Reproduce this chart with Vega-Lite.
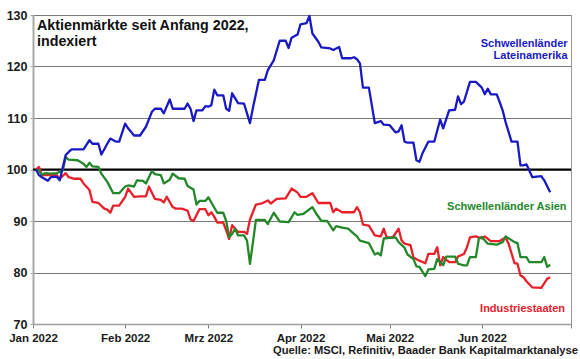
{
  "$schema": "https://vega.github.io/schema/vega-lite/v6.json",
  "width": 538,
  "height": 309,
  "autosize": {"type": "none"},
  "padding": {"left": 33, "top": 15, "right": 9, "bottom": 35},
  "background": "white",
  "title": {"text": "Quelle: MSCI, Refinitiv, Baader Bank Kapitalmarktanalyse", "orient": "bottom", "anchor": "end", "frame": "group", "fontSize": 11.2, "fontWeight": "bold", "color": "#1a1a1a", "offset": 1, "dx": 7, "baseline": "top"},
  "config": {
    "font": "Liberation Sans",
    "view": {"stroke": "#9a9a9a", "strokeWidth": 1}
  },
  "layer": [
    {
      "data": {"values": [{}]},
      "mark": {"type": "rule", "color": "#000000", "strokeWidth": 2.2},
      "encoding": {"y": {"datum": 100, "type": "quantitative", "title": null}}
    },
    {
      "data": {"values": [
        {"series":"Industrie","date":"2022-01-02","value":100.0},
        {"series":"Industrie","date":"2022-01-03","value":100.5},
        {"series":"Industrie","date":"2022-01-04","value":98.9},
        {"series":"Industrie","date":"2022-01-07","value":98.9},
        {"series":"Industrie","date":"2022-01-09","value":98.9},
        {"series":"Industrie","date":"2022-01-10","value":98.2},
        {"series":"Industrie","date":"2022-01-12","value":99.3},
        {"series":"Industrie","date":"2022-01-13","value":98.5},
        {"series":"Industrie","date":"2022-01-15","value":98.2},
        {"series":"Industrie","date":"2022-01-17","value":98.2},
        {"series":"Industrie","date":"2022-01-18","value":97.3},
        {"series":"Industrie","date":"2022-01-20","value":96.0},
        {"series":"Industrie","date":"2022-01-21","value":93.7},
        {"series":"Industrie","date":"2022-01-23","value":93.5},
        {"series":"Industrie","date":"2022-01-25","value":92.4},
        {"series":"Industrie","date":"2022-01-26","value":92.2},
        {"series":"Industrie","date":"2022-01-27","value":91.6},
        {"series":"Industrie","date":"2022-01-28","value":93.0},
        {"series":"Industrie","date":"2022-01-30","value":93.0},
        {"series":"Industrie","date":"2022-02-01","value":94.7},
        {"series":"Industrie","date":"2022-02-02","value":96.3},
        {"series":"Industrie","date":"2022-02-04","value":94.7},
        {"series":"Industrie","date":"2022-02-06","value":94.8},
        {"series":"Industrie","date":"2022-02-08","value":94.8},
        {"series":"Industrie","date":"2022-02-09","value":96.7},
        {"series":"Industrie","date":"2022-02-11","value":94.3},
        {"series":"Industrie","date":"2022-02-13","value":94.1},
        {"series":"Industrie","date":"2022-02-14","value":93.6},
        {"series":"Industrie","date":"2022-02-15","value":94.7},
        {"series":"Industrie","date":"2022-02-17","value":92.7},
        {"series":"Industrie","date":"2022-02-18","value":92.4},
        {"series":"Industrie","date":"2022-02-20","value":92.4},
        {"series":"Industrie","date":"2022-02-22","value":92.0},
        {"series":"Industrie","date":"2022-02-23","value":90.3},
        {"series":"Industrie","date":"2022-02-24","value":90.0},
        {"series":"Industrie","date":"2022-02-26","value":92.3},
        {"series":"Industrie","date":"2022-02-28","value":92.3},
        {"series":"Industrie","date":"2022-03-01","value":91.1},
        {"series":"Industrie","date":"2022-03-02","value":91.7},
        {"series":"Industrie","date":"2022-03-03","value":90.8},
        {"series":"Industrie","date":"2022-03-04","value":89.7},
        {"series":"Industrie","date":"2022-03-06","value":89.7},
        {"series":"Industrie","date":"2022-03-07","value":88.2},
        {"series":"Industrie","date":"2022-03-08","value":86.5},
        {"series":"Industrie","date":"2022-03-09","value":89.2},
        {"series":"Industrie","date":"2022-03-10","value":88.5},
        {"series":"Industrie","date":"2022-03-11","value":87.9},
        {"series":"Industrie","date":"2022-03-13","value":87.9},
        {"series":"Industrie","date":"2022-03-14","value":87.5},
        {"series":"Industrie","date":"2022-03-15","value":90.3},
        {"series":"Industrie","date":"2022-03-17","value":93.2},
        {"series":"Industrie","date":"2022-03-19","value":93.4},
        {"series":"Industrie","date":"2022-03-21","value":94.0},
        {"series":"Industrie","date":"2022-03-22","value":93.4},
        {"series":"Industrie","date":"2022-03-24","value":94.3},
        {"series":"Industrie","date":"2022-03-27","value":94.4},
        {"series":"Industrie","date":"2022-03-29","value":96.3},
        {"series":"Industrie","date":"2022-03-31","value":95.5},
        {"series":"Industrie","date":"2022-04-01","value":94.7},
        {"series":"Industrie","date":"2022-04-03","value":94.7},
        {"series":"Industrie","date":"2022-04-05","value":95.4},
        {"series":"Industrie","date":"2022-04-07","value":93.5},
        {"series":"Industrie","date":"2022-04-11","value":93.5},
        {"series":"Industrie","date":"2022-04-12","value":91.7},
        {"series":"Industrie","date":"2022-04-13","value":92.4},
        {"series":"Industrie","date":"2022-04-15","value":91.7},
        {"series":"Industrie","date":"2022-04-19","value":91.7},
        {"series":"Industrie","date":"2022-04-20","value":92.7},
        {"series":"Industrie","date":"2022-04-21","value":91.7},
        {"series":"Industrie","date":"2022-04-22","value":89.3},
        {"series":"Industrie","date":"2022-04-24","value":89.1},
        {"series":"Industrie","date":"2022-04-26","value":87.2},
        {"series":"Industrie","date":"2022-04-28","value":87.0},
        {"series":"Industrie","date":"2022-04-29","value":88.5},
        {"series":"Industrie","date":"2022-04-30","value":86.8},
        {"series":"Industrie","date":"2022-05-02","value":86.8},
        {"series":"Industrie","date":"2022-05-04","value":88.5},
        {"series":"Industrie","date":"2022-05-05","value":86.2},
        {"series":"Industrie","date":"2022-05-06","value":85.6},
        {"series":"Industrie","date":"2022-05-08","value":85.3},
        {"series":"Industrie","date":"2022-05-09","value":82.9},
        {"series":"Industrie","date":"2022-05-11","value":82.3},
        {"series":"Industrie","date":"2022-05-13","value":81.8},
        {"series":"Industrie","date":"2022-05-14","value":83.6},
        {"series":"Industrie","date":"2022-05-16","value":83.6},
        {"series":"Industrie","date":"2022-05-17","value":84.9},
        {"series":"Industrie","date":"2022-05-18","value":81.4},
        {"series":"Industrie","date":"2022-05-19","value":83.0},
        {"series":"Industrie","date":"2022-05-21","value":82.0},
        {"series":"Industrie","date":"2022-05-23","value":82.0},
        {"series":"Industrie","date":"2022-05-24","value":83.1},
        {"series":"Industrie","date":"2022-05-26","value":83.6},
        {"series":"Industrie","date":"2022-05-27","value":84.9},
        {"series":"Industrie","date":"2022-05-28","value":86.8},
        {"series":"Industrie","date":"2022-05-30","value":87.0},
        {"series":"Industrie","date":"2022-06-01","value":86.6},
        {"series":"Industrie","date":"2022-06-02","value":87.0},
        {"series":"Industrie","date":"2022-06-04","value":86.1},
        {"series":"Industrie","date":"2022-06-07","value":86.1},
        {"series":"Industrie","date":"2022-06-09","value":86.8},
        {"series":"Industrie","date":"2022-06-10","value":85.6},
        {"series":"Industrie","date":"2022-06-12","value":81.8},
        {"series":"Industrie","date":"2022-06-13","value":81.7},
        {"series":"Industrie","date":"2022-06-14","value":79.4},
        {"series":"Industrie","date":"2022-06-15","value":79.1},
        {"series":"Industrie","date":"2022-06-16","value":78.3},
        {"series":"Industrie","date":"2022-06-18","value":77.1},
        {"series":"Industrie","date":"2022-06-21","value":77.0},
        {"series":"Industrie","date":"2022-06-22","value":77.9},
        {"series":"Industrie","date":"2022-06-23","value":78.8},
        {"series":"Industrie","date":"2022-06-24","value":79.0},

        {"series":"Asien","date":"2022-01-02","value":100.0},
        {"series":"Asien","date":"2022-01-03","value":99.8},
        {"series":"Asien","date":"2022-01-04","value":98.9},
        {"series":"Asien","date":"2022-01-05","value":99.3},
        {"series":"Asien","date":"2022-01-07","value":99.2},
        {"series":"Asien","date":"2022-01-09","value":99.3},
        {"series":"Asien","date":"2022-01-11","value":99.8},
        {"series":"Asien","date":"2022-01-12","value":102.4},
        {"series":"Asien","date":"2022-01-13","value":101.9},
        {"series":"Asien","date":"2022-01-16","value":101.8},
        {"series":"Asien","date":"2022-01-18","value":101.1},
        {"series":"Asien","date":"2022-01-19","value":100.5},
        {"series":"Asien","date":"2022-01-20","value":101.3},
        {"series":"Asien","date":"2022-01-21","value":100.6},
        {"series":"Asien","date":"2022-01-23","value":100.5},
        {"series":"Asien","date":"2022-01-24","value":99.2},
        {"series":"Asien","date":"2022-01-26","value":97.6},
        {"series":"Asien","date":"2022-01-28","value":95.4},
        {"series":"Asien","date":"2022-01-30","value":95.4},
        {"series":"Asien","date":"2022-02-01","value":96.7},
        {"series":"Asien","date":"2022-02-02","value":96.9},
        {"series":"Asien","date":"2022-02-04","value":96.7},
        {"series":"Asien","date":"2022-02-05","value":97.9},
        {"series":"Asien","date":"2022-02-07","value":97.8},
        {"series":"Asien","date":"2022-02-08","value":97.3},
        {"series":"Asien","date":"2022-02-10","value":99.7},
        {"series":"Asien","date":"2022-02-11","value":99.1},
        {"series":"Asien","date":"2022-02-13","value":98.9},
        {"series":"Asien","date":"2022-02-14","value":97.3},
        {"series":"Asien","date":"2022-02-16","value":98.0},
        {"series":"Asien","date":"2022-02-17","value":99.2},
        {"series":"Asien","date":"2022-02-19","value":98.3},
        {"series":"Asien","date":"2022-02-21","value":98.2},
        {"series":"Asien","date":"2022-02-22","value":96.8},
        {"series":"Asien","date":"2022-02-24","value":96.1},
        {"series":"Asien","date":"2022-02-25","value":93.2},
        {"series":"Asien","date":"2022-02-26","value":93.9},
        {"series":"Asien","date":"2022-02-28","value":93.9},
        {"series":"Asien","date":"2022-03-01","value":94.6},
        {"series":"Asien","date":"2022-03-02","value":93.6},
        {"series":"Asien","date":"2022-03-04","value":91.6},
        {"series":"Asien","date":"2022-03-06","value":91.6},
        {"series":"Asien","date":"2022-03-07","value":90.0},
        {"series":"Asien","date":"2022-03-08","value":86.9},
        {"series":"Asien","date":"2022-03-09","value":87.5},
        {"series":"Asien","date":"2022-03-10","value":88.5},
        {"series":"Asien","date":"2022-03-11","value":87.2},
        {"series":"Asien","date":"2022-03-13","value":87.2},
        {"series":"Asien","date":"2022-03-14","value":86.2},
        {"series":"Asien","date":"2022-03-15","value":81.7},
        {"series":"Asien","date":"2022-03-16","value":85.9},
        {"series":"Asien","date":"2022-03-17","value":90.2},
        {"series":"Asien","date":"2022-03-20","value":90.2},
        {"series":"Asien","date":"2022-03-21","value":89.4},
        {"series":"Asien","date":"2022-03-23","value":91.6},
        {"series":"Asien","date":"2022-03-25","value":89.9},
        {"series":"Asien","date":"2022-03-28","value":89.8},
        {"series":"Asien","date":"2022-03-30","value":91.7},
        {"series":"Asien","date":"2022-03-31","value":91.2},
        {"series":"Asien","date":"2022-04-02","value":91.4},
        {"series":"Asien","date":"2022-04-05","value":92.7},
        {"series":"Asien","date":"2022-04-06","value":91.7},
        {"series":"Asien","date":"2022-04-08","value":90.0},
        {"series":"Asien","date":"2022-04-10","value":90.0},
        {"series":"Asien","date":"2022-04-12","value":88.2},
        {"series":"Asien","date":"2022-04-13","value":89.0},
        {"series":"Asien","date":"2022-04-15","value":88.7},
        {"series":"Asien","date":"2022-04-17","value":88.5},
        {"series":"Asien","date":"2022-04-19","value":87.5},
        {"series":"Asien","date":"2022-04-20","value":87.0},
        {"series":"Asien","date":"2022-04-21","value":86.2},
        {"series":"Asien","date":"2022-04-24","value":85.7},
        {"series":"Asien","date":"2022-04-26","value":83.5},
        {"series":"Asien","date":"2022-04-27","value":83.8},
        {"series":"Asien","date":"2022-04-28","value":83.3},
        {"series":"Asien","date":"2022-04-29","value":86.6},
        {"series":"Asien","date":"2022-05-02","value":86.8},
        {"series":"Asien","date":"2022-05-03","value":86.8},
        {"series":"Asien","date":"2022-05-04","value":85.9},
        {"series":"Asien","date":"2022-05-06","value":84.8},
        {"series":"Asien","date":"2022-05-07","value":83.5},
        {"series":"Asien","date":"2022-05-09","value":82.6},
        {"series":"Asien","date":"2022-05-10","value":81.2},
        {"series":"Asien","date":"2022-05-11","value":81.1},
        {"series":"Asien","date":"2022-05-13","value":79.3},
        {"series":"Asien","date":"2022-05-14","value":80.6},
        {"series":"Asien","date":"2022-05-16","value":80.7},
        {"series":"Asien","date":"2022-05-17","value":82.6},
        {"series":"Asien","date":"2022-05-19","value":81.4},
        {"series":"Asien","date":"2022-05-20","value":83.1},
        {"series":"Asien","date":"2022-05-23","value":83.1},
        {"series":"Asien","date":"2022-05-24","value":81.7},
        {"series":"Asien","date":"2022-05-26","value":81.4},
        {"series":"Asien","date":"2022-05-27","value":81.4},
        {"series":"Asien","date":"2022-05-28","value":83.0},
        {"series":"Asien","date":"2022-05-30","value":83.0},
        {"series":"Asien","date":"2022-05-31","value":86.6},
        {"series":"Asien","date":"2022-06-01","value":86.9},
        {"series":"Asien","date":"2022-06-03","value":85.6},
        {"series":"Asien","date":"2022-06-06","value":85.4},
        {"series":"Asien","date":"2022-06-08","value":85.9},
        {"series":"Asien","date":"2022-06-09","value":87.0},
        {"series":"Asien","date":"2022-06-12","value":85.9},
        {"series":"Asien","date":"2022-06-13","value":85.7},
        {"series":"Asien","date":"2022-06-14","value":83.0},
        {"series":"Asien","date":"2022-06-16","value":83.0},
        {"series":"Asien","date":"2022-06-17","value":82.0},
        {"series":"Asien","date":"2022-06-21","value":82.0},
        {"series":"Asien","date":"2022-06-22","value":83.0},
        {"series":"Asien","date":"2022-06-23","value":81.1},
        {"series":"Asien","date":"2022-06-24","value":81.5},

        {"series":"LatAm","date":"2022-01-02","value":100.0},
        {"series":"LatAm","date":"2022-01-03","value":98.9},
        {"series":"LatAm","date":"2022-01-04","value":98.5},
        {"series":"LatAm","date":"2022-01-06","value":97.8},
        {"series":"LatAm","date":"2022-01-07","value":98.5},
        {"series":"LatAm","date":"2022-01-09","value":98.6},
        {"series":"LatAm","date":"2022-01-10","value":97.9},
        {"series":"LatAm","date":"2022-01-12","value":102.8},
        {"series":"LatAm","date":"2022-01-13","value":103.4},
        {"series":"LatAm","date":"2022-01-14","value":103.9},
        {"series":"LatAm","date":"2022-01-18","value":103.9},
        {"series":"LatAm","date":"2022-01-20","value":105.7},
        {"series":"LatAm","date":"2022-01-21","value":105.0},
        {"series":"LatAm","date":"2022-01-23","value":105.0},
        {"series":"LatAm","date":"2022-01-24","value":102.9},
        {"series":"LatAm","date":"2022-01-26","value":105.0},
        {"series":"LatAm","date":"2022-01-27","value":106.0},
        {"series":"LatAm","date":"2022-01-29","value":105.4},
        {"series":"LatAm","date":"2022-01-30","value":105.4},
        {"series":"LatAm","date":"2022-02-01","value":108.9},
        {"series":"LatAm","date":"2022-02-02","value":108.0},
        {"series":"LatAm","date":"2022-02-04","value":106.6},
        {"series":"LatAm","date":"2022-02-06","value":106.6},
        {"series":"LatAm","date":"2022-02-08","value":108.3},
        {"series":"LatAm","date":"2022-02-10","value":111.2},
        {"series":"LatAm","date":"2022-02-11","value":111.8},
        {"series":"LatAm","date":"2022-02-13","value":111.8},
        {"series":"LatAm","date":"2022-02-14","value":110.9},
        {"series":"LatAm","date":"2022-02-16","value":113.6},
        {"series":"LatAm","date":"2022-02-17","value":111.8},
        {"series":"LatAm","date":"2022-02-21","value":111.8},
        {"series":"LatAm","date":"2022-02-22","value":112.8},
        {"series":"LatAm","date":"2022-02-23","value":111.8},
        {"series":"LatAm","date":"2022-02-24","value":109.4},
        {"series":"LatAm","date":"2022-02-25","value":111.5},
        {"series":"LatAm","date":"2022-02-27","value":111.5},
        {"series":"LatAm","date":"2022-02-28","value":112.3},
        {"series":"LatAm","date":"2022-03-01","value":112.2},
        {"series":"LatAm","date":"2022-03-02","value":112.5},
        {"series":"LatAm","date":"2022-03-03","value":115.5},
        {"series":"LatAm","date":"2022-03-04","value":114.4},
        {"series":"LatAm","date":"2022-03-06","value":114.4},
        {"series":"LatAm","date":"2022-03-07","value":111.8},
        {"series":"LatAm","date":"2022-03-08","value":111.4},
        {"series":"LatAm","date":"2022-03-09","value":114.8},
        {"series":"LatAm","date":"2022-03-11","value":112.9},
        {"series":"LatAm","date":"2022-03-13","value":112.8},
        {"series":"LatAm","date":"2022-03-15","value":109.0},
        {"series":"LatAm","date":"2022-03-16","value":112.0},
        {"series":"LatAm","date":"2022-03-18","value":117.4},
        {"series":"LatAm","date":"2022-03-20","value":117.4},
        {"series":"LatAm","date":"2022-03-21","value":119.3},
        {"series":"LatAm","date":"2022-03-23","value":121.2},
        {"series":"LatAm","date":"2022-03-25","value":125.0},
        {"series":"LatAm","date":"2022-03-27","value":125.0},
        {"series":"LatAm","date":"2022-03-28","value":123.6},
        {"series":"LatAm","date":"2022-03-29","value":125.6},
        {"series":"LatAm","date":"2022-03-31","value":126.2},
        {"series":"LatAm","date":"2022-04-01","value":128.2},
        {"series":"LatAm","date":"2022-04-03","value":128.4},
        {"series":"LatAm","date":"2022-04-04","value":129.8},
        {"series":"LatAm","date":"2022-04-05","value":126.4},
        {"series":"LatAm","date":"2022-04-07","value":124.8},
        {"series":"LatAm","date":"2022-04-08","value":123.7},
        {"series":"LatAm","date":"2022-04-11","value":123.5},
        {"series":"LatAm","date":"2022-04-12","value":123.2},
        {"series":"LatAm","date":"2022-04-14","value":123.8},
        {"series":"LatAm","date":"2022-04-15","value":121.6},
        {"series":"LatAm","date":"2022-04-18","value":121.6},
        {"series":"LatAm","date":"2022-04-19","value":121.8},
        {"series":"LatAm","date":"2022-04-20","value":121.4},
        {"series":"LatAm","date":"2022-04-21","value":120.6},
        {"series":"LatAm","date":"2022-04-22","value":115.9},
        {"series":"LatAm","date":"2022-04-24","value":115.9},
        {"series":"LatAm","date":"2022-04-26","value":109.0},
        {"series":"LatAm","date":"2022-04-28","value":109.4},
        {"series":"LatAm","date":"2022-04-29","value":108.7},
        {"series":"LatAm","date":"2022-05-01","value":108.6},
        {"series":"LatAm","date":"2022-05-03","value":107.2},
        {"series":"LatAm","date":"2022-05-04","value":107.4},
        {"series":"LatAm","date":"2022-05-05","value":108.6},
        {"series":"LatAm","date":"2022-05-06","value":105.4},
        {"series":"LatAm","date":"2022-05-07","value":105.2},
        {"series":"LatAm","date":"2022-05-09","value":105.2},
        {"series":"LatAm","date":"2022-05-10","value":101.8},
        {"series":"LatAm","date":"2022-05-11","value":101.5},
        {"series":"LatAm","date":"2022-05-12","value":103.1},
        {"series":"LatAm","date":"2022-05-14","value":105.4},
        {"series":"LatAm","date":"2022-05-16","value":105.4},
        {"series":"LatAm","date":"2022-05-18","value":109.7},
        {"series":"LatAm","date":"2022-05-19","value":108.0},
        {"series":"LatAm","date":"2022-05-21","value":111.5},
        {"series":"LatAm","date":"2022-05-23","value":111.6},
        {"series":"LatAm","date":"2022-05-24","value":114.2},
        {"series":"LatAm","date":"2022-05-25","value":112.7},
        {"series":"LatAm","date":"2022-05-26","value":113.2},
        {"series":"LatAm","date":"2022-05-28","value":117.0},
        {"series":"LatAm","date":"2022-05-30","value":117.0},
        {"series":"LatAm","date":"2022-06-01","value":115.9},
        {"series":"LatAm","date":"2022-06-02","value":114.6},
        {"series":"LatAm","date":"2022-06-03","value":115.7},
        {"series":"LatAm","date":"2022-06-04","value":114.6},
        {"series":"LatAm","date":"2022-06-06","value":114.6},
        {"series":"LatAm","date":"2022-06-07","value":113.1},
        {"series":"LatAm","date":"2022-06-08","value":111.5},
        {"series":"LatAm","date":"2022-06-09","value":109.2},
        {"series":"LatAm","date":"2022-06-11","value":105.4},
        {"series":"LatAm","date":"2022-06-13","value":105.4},
        {"series":"LatAm","date":"2022-06-14","value":100.8},
        {"series":"LatAm","date":"2022-06-15","value":100.8},
        {"series":"LatAm","date":"2022-06-16","value":101.0},
        {"series":"LatAm","date":"2022-06-18","value":98.5},
        {"series":"LatAm","date":"2022-06-21","value":98.7},
        {"series":"LatAm","date":"2022-06-22","value":97.9},
        {"series":"LatAm","date":"2022-06-24","value":95.6}
      ]},
      "mark": {"type": "line", "strokeWidth": 2.3, "strokeJoin": "round"},
      "encoding": {
        "x": {
          "field": "date", "type": "temporal",
          "scale": {"type": "utc", "domain": [{"year": 2022, "month": 1, "date": 1, "utc": true}, {"year": 2022, "month": 7, "date": 1, "utc": true}]},
          "axis": {
            "title": null,
            "values": [
              {"year": 2022, "month": 1, "date": 1, "utc": true},
              {"year": 2022, "month": 2, "date": 1, "utc": true},
              {"year": 2022, "month": 3, "date": 1, "utc": true},
              {"year": 2022, "month": 4, "date": 1, "utc": true},
              {"year": 2022, "month": 5, "date": 1, "utc": true},
              {"year": 2022, "month": 6, "date": 1, "utc": true},
              {"year": 2022, "month": 7, "date": 1, "utc": true}
            ],
            "labelExpr": "utcmonth(datum.value) < 6 ? ['Jan','Feb','Mrz','Apr','Mai','Jun'][utcmonth(datum.value)] + ' 2022' : ''",
            "grid": false,
            "domainColor": "#a0a0a0",
            "domainWidth": 1.5,
            "tickColor": "#808080",
            "tickSize": 4,
            "labelFontSize": 11.5,
            "labelFontWeight": "bold",
            "labelColor": "#1a1a1a",
            "labelPadding": 4,
            "labelFlush": false,
            "labelOverlap": false
          }
        },
        "y": {
          "field": "value", "type": "quantitative",
          "scale": {"domain": [70, 130], "nice": false, "zero": false},
          "axis": {
            "title": null,
            "values": [70, 80, 90, 100, 110, 120, 130],
            "grid": true,
            "gridColor": "#7a7a7a",
            "gridWidth": 1,
            "domainColor": "#a8a8a8",
            "domainWidth": 2,
            "tickColor": "#a8a8a8",
            "tickSize": 3,
            "labelFontSize": 12.5,
            "labelFontWeight": "bold",
            "labelColor": "#1a1a1a",
            "labelPadding": 3
          }
        },
        "color": {
          "field": "series", "type": "nominal",
          "scale": {"domain": ["Industrie", "Asien", "LatAm"], "range": ["#e8202a", "#23882a", "#1a1ac4"]},
          "legend": null
        }
      }
    },
    {
      "data": {"values": [{}]},
      "mark": {"type": "text", "text": ["Aktienmärkte seit Anfang 2022,", "indexiert"], "font": "Liberation Sans", "fontSize": 14.3, "fontWeight": "bold", "color": "#111111", "align": "left", "baseline": "alphabetic", "lineHeight": 16},
      "encoding": {
        "x": {"datum": {"year": 2022, "month": 1, "date": 2, "hours": 8, "utc": true}, "type": "temporal", "title": null},
        "y": {"datum": 127.0, "type": "quantitative", "title": null}
      }
    },
    {
      "data": {"values": [{}]},
      "mark": {"type": "text", "text": ["Schwellenländer", "Lateinamerika"], "font": "Liberation Sans", "fontSize": 11, "fontWeight": "bold", "color": "#1a1ac4", "align": "right", "baseline": "alphabetic", "lineHeight": 12},
      "encoding": {
        "x": {"datum": {"year": 2022, "month": 6, "date": 29, "hours": 20, "utc": true}, "type": "temporal", "title": null},
        "y": {"datum": 123.8, "type": "quantitative", "title": null}
      }
    },
    {
      "data": {"values": [{}]},
      "mark": {"type": "text", "text": "Schwellenländer Asien", "font": "Liberation Sans", "fontSize": 11, "fontWeight": "bold", "color": "#23882a", "align": "right", "baseline": "alphabetic"},
      "encoding": {
        "x": {"datum": {"year": 2022, "month": 6, "date": 29, "hours": 12, "utc": true}, "type": "temporal", "title": null},
        "y": {"datum": 92.1, "type": "quantitative", "title": null}
      }
    },
    {
      "data": {"values": [{}]},
      "mark": {"type": "text", "text": "Industriestaaten", "font": "Liberation Sans", "fontSize": 11, "fontWeight": "bold", "color": "#e8202a", "align": "right", "baseline": "alphabetic"},
      "encoding": {
        "x": {"datum": {"year": 2022, "month": 6, "date": 29, "utc": true}, "type": "temporal", "title": null},
        "y": {"datum": 72.4, "type": "quantitative", "title": null}
      }
    }
  ]
}
